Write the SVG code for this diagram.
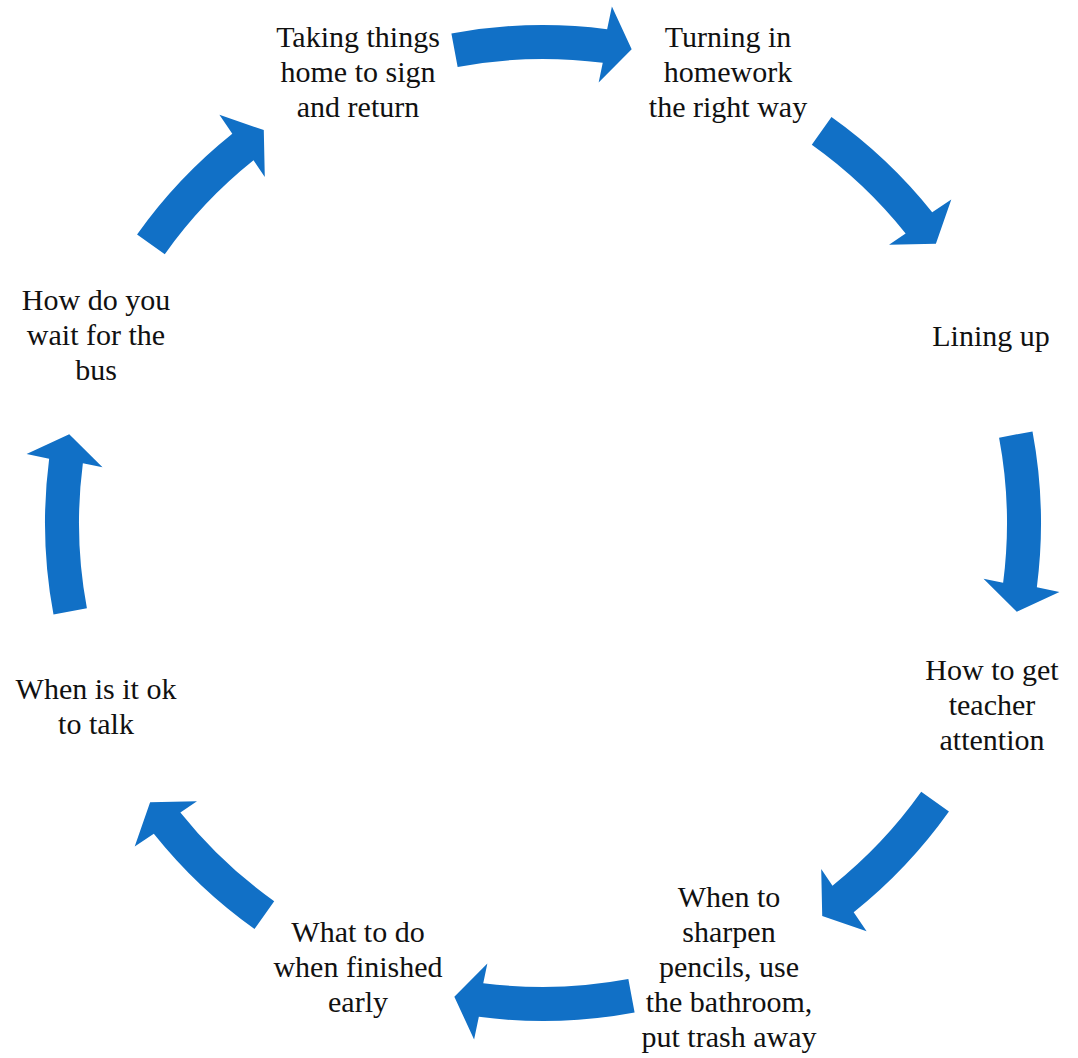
<svg xmlns="http://www.w3.org/2000/svg" width="1078" height="1058" viewBox="0 0 1078 1058">
<style>
.arr{fill:#1170C6;stroke:none}
.lbl{font-family:"Liberation Serif","Times New Roman",serif;font-size:30px;fill:#111;text-anchor:middle}
</style>
<defs>
<path id="axial" d="M 451.39 33.50 A 498 498 0 0 1 607.14 29.15 L 611.91 6.57 L 631.66 49.22 L 598.65 82.50 L 602.76 62.87 A 464 464 0 0 0 457.65 66.92 Z"/>
<path id="diag" d="M 459.95 31.97 A 498 498 0 0 1 598.51 28.10 L 602.88 5.47 L 623.38 47.75 L 590.95 81.60 L 594.72 61.89 A 464 464 0 0 0 465.62 65.50 Z"/>
</defs>
<rect width="1078" height="1058" fill="#fff"/>
<g id="connectors">
<use href="#axial" class="arr"/>
<use href="#diag" class="arr" transform="rotate(45 543 523)"/>
<use href="#axial" class="arr" transform="rotate(90 543 523)"/>
<use href="#diag" class="arr" transform="rotate(135 543 523)"/>
<use href="#axial" class="arr" transform="rotate(180 543 523)"/>
<use href="#diag" class="arr" transform="rotate(225 543 523)"/>
<use href="#axial" class="arr" transform="rotate(270 543 523)"/>
<use href="#diag" class="arr" transform="rotate(315 543 523)"/>
</g>
<g id="node1"><text class="lbl" x="358" y="47">Taking things</text><text class="lbl" x="358" y="82">home to sign</text><text class="lbl" x="358" y="117">and return</text></g>
<g id="node2"><text class="lbl" x="728" y="47">Turning in</text><text class="lbl" x="728" y="82">homework</text><text class="lbl" x="728" y="117">the right way</text></g>
<g id="node3"><text class="lbl" x="991" y="346">Lining up</text></g>
<g id="node4"><text class="lbl" x="992" y="680">How to get</text><text class="lbl" x="992" y="715">teacher</text><text class="lbl" x="992" y="750">attention</text></g>
<g id="node5"><text class="lbl" x="729" y="907">When to</text><text class="lbl" x="729" y="942">sharpen</text><text class="lbl" x="729" y="977">pencils, use</text><text class="lbl" x="729" y="1012">the bathroom,</text><text class="lbl" x="729" y="1047">put trash away</text></g>
<g id="node6"><text class="lbl" x="358" y="942">What to do</text><text class="lbl" x="358" y="977">when finished</text><text class="lbl" x="358" y="1012">early</text></g>
<g id="node7"><text class="lbl" x="96" y="699">When is it ok</text><text class="lbl" x="96" y="734">to talk</text></g>
<g id="node8"><text class="lbl" x="96" y="310">How do you</text><text class="lbl" x="96" y="345">wait for the</text><text class="lbl" x="96" y="380">bus</text></g>
</svg>
